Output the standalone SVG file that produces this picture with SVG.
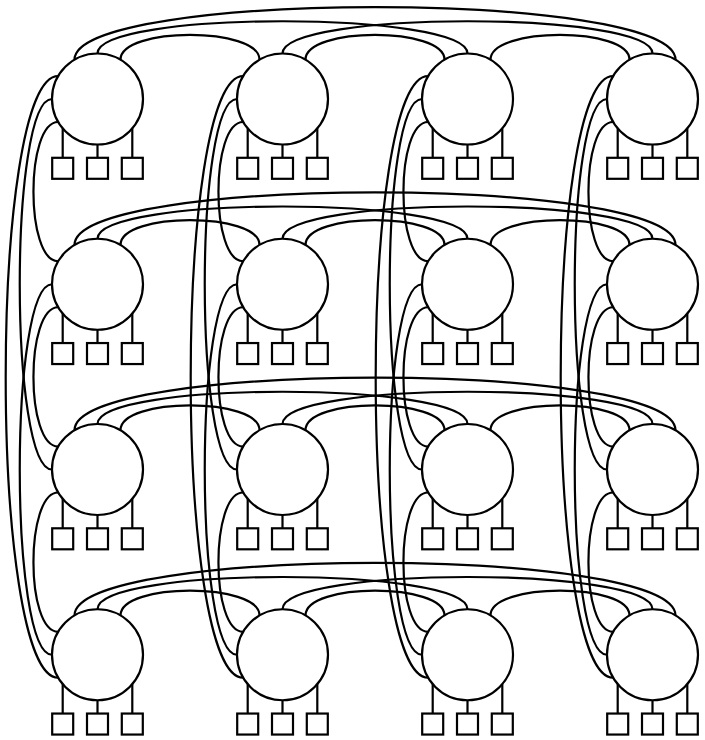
<svg xmlns="http://www.w3.org/2000/svg" width="705" height="740" viewBox="0 0 705 740">
<style>
.e{fill:none;stroke:#000;stroke-width:2.2}
.n circle{fill:#fff;stroke:#000;stroke-width:2.2}
.n rect{fill:#fff;stroke:#000;stroke-width:2.2}
.n path{fill:none;stroke:#000;stroke-width:2.2}
</style>
<rect width="705" height="740" fill="#fff"/>
<g id="connectors">
<g id="rows">
<g id="row1-edges" transform="translate(0,0)">
<path class="e" d="M120.5,59.7 C120.5,26.7 259.5,26.7 259.5,59.7"/>
<path class="e" d="M305.5,59.7 C305.5,26.7 444.5,26.7 444.5,59.7"/>
<path class="e" d="M490.5,59.7 C490.5,26.7 629.5,26.7 629.5,59.7"/>
<path class="e" d="M97.5,53.5 C97.5,10.5 467.5,10.5 467.5,53.5"/>
<path class="e" d="M282.5,53.5 C282.5,10.5 652.5,10.5 652.5,53.5"/>
<path class="e" d="M74.5,59.7 C74.5,-10.3 675.5,-10.3 675.5,59.7"/>
</g>
<g id="row2-edges" transform="translate(0,185.25)">
<path class="e" d="M120.5,59.7 C120.5,26.7 259.5,26.7 259.5,59.7"/>
<path class="e" d="M305.5,59.7 C305.5,26.7 444.5,26.7 444.5,59.7"/>
<path class="e" d="M490.5,59.7 C490.5,26.7 629.5,26.7 629.5,59.7"/>
<path class="e" d="M97.5,53.5 C97.5,10.5 467.5,10.5 467.5,53.5"/>
<path class="e" d="M282.5,53.5 C282.5,10.5 652.5,10.5 652.5,53.5"/>
<path class="e" d="M74.5,59.7 C74.5,-10.3 675.5,-10.3 675.5,59.7"/>
</g>
<g id="row3-edges" transform="translate(0,370.5)">
<path class="e" d="M120.5,59.7 C120.5,26.7 259.5,26.7 259.5,59.7"/>
<path class="e" d="M305.5,59.7 C305.5,26.7 444.5,26.7 444.5,59.7"/>
<path class="e" d="M490.5,59.7 C490.5,26.7 629.5,26.7 629.5,59.7"/>
<path class="e" d="M97.5,53.5 C97.5,10.5 467.5,10.5 467.5,53.5"/>
<path class="e" d="M282.5,53.5 C282.5,10.5 652.5,10.5 652.5,53.5"/>
<path class="e" d="M74.5,59.7 C74.5,-10.3 675.5,-10.3 675.5,59.7"/>
</g>
<g id="row4-edges" transform="translate(0,555.75)">
<path class="e" d="M120.5,59.7 C120.5,26.7 259.5,26.7 259.5,59.7"/>
<path class="e" d="M305.5,59.7 C305.5,26.7 444.5,26.7 444.5,59.7"/>
<path class="e" d="M490.5,59.7 C490.5,26.7 629.5,26.7 629.5,59.7"/>
<path class="e" d="M97.5,53.5 C97.5,10.5 467.5,10.5 467.5,53.5"/>
<path class="e" d="M282.5,53.5 C282.5,10.5 652.5,10.5 652.5,53.5"/>
<path class="e" d="M74.5,59.7 C74.5,-10.3 675.5,-10.3 675.5,59.7"/>
</g>
</g>
<g id="cols">
<g id="col1-edges" transform="translate(0,0)">
<path class="e" d="M58.2,122 C25.2,122 25.2,261.25 58.2,261.25"/>
<path class="e" d="M58.2,307.25 C25.2,307.25 25.2,446.5 58.2,446.5"/>
<path class="e" d="M58.2,492.5 C25.2,492.5 25.2,631.75 58.2,631.75"/>
<path class="e" d="M52,99 C9,99 9,469.5 52,469.5"/>
<path class="e" d="M52,284.25 C9,284.25 9,654.75 52,654.75"/>
<path class="e" d="M58.2,76 C-11.8,76 -11.8,677.75 58.2,677.75"/>
</g>
<g id="col2-edges" transform="translate(185,0)">
<path class="e" d="M58.2,122 C25.2,122 25.2,261.25 58.2,261.25"/>
<path class="e" d="M58.2,307.25 C25.2,307.25 25.2,446.5 58.2,446.5"/>
<path class="e" d="M58.2,492.5 C25.2,492.5 25.2,631.75 58.2,631.75"/>
<path class="e" d="M52,99 C9,99 9,469.5 52,469.5"/>
<path class="e" d="M52,284.25 C9,284.25 9,654.75 52,654.75"/>
<path class="e" d="M58.2,76 C-11.8,76 -11.8,677.75 58.2,677.75"/>
</g>
<g id="col3-edges" transform="translate(370,0)">
<path class="e" d="M58.2,122 C25.2,122 25.2,261.25 58.2,261.25"/>
<path class="e" d="M58.2,307.25 C25.2,307.25 25.2,446.5 58.2,446.5"/>
<path class="e" d="M58.2,492.5 C25.2,492.5 25.2,631.75 58.2,631.75"/>
<path class="e" d="M52,99 C9,99 9,469.5 52,469.5"/>
<path class="e" d="M52,284.25 C9,284.25 9,654.75 52,654.75"/>
<path class="e" d="M58.2,76 C-11.8,76 -11.8,677.75 58.2,677.75"/>
</g>
<g id="col4-edges" transform="translate(555,0)">
<path class="e" d="M58.2,122 C25.2,122 25.2,261.25 58.2,261.25"/>
<path class="e" d="M58.2,307.25 C25.2,307.25 25.2,446.5 58.2,446.5"/>
<path class="e" d="M58.2,492.5 C25.2,492.5 25.2,631.75 58.2,631.75"/>
<path class="e" d="M52,99 C9,99 9,469.5 52,469.5"/>
<path class="e" d="M52,284.25 C9,284.25 9,654.75 52,654.75"/>
<path class="e" d="M58.2,76 C-11.8,76 -11.8,677.75 58.2,677.75"/>
</g>
</g>
</g>
<g id="nodes">
<g id="n11" class="n" transform="translate(97.5,99)"><path d="M-34.8,29.3V58.8M0,45.5V58.8M34.8,29.3V58.8"/><circle r="45.5"/><rect x="-45.3" y="58.8" width="21" height="21"/><rect x="-10.5" y="58.8" width="21" height="21"/><rect x="24.3" y="58.8" width="21" height="21"/></g>
<g id="n12" class="n" transform="translate(282.5,99)"><path d="M-34.8,29.3V58.8M0,45.5V58.8M34.8,29.3V58.8"/><circle r="45.5"/><rect x="-45.3" y="58.8" width="21" height="21"/><rect x="-10.5" y="58.8" width="21" height="21"/><rect x="24.3" y="58.8" width="21" height="21"/></g>
<g id="n13" class="n" transform="translate(467.5,99)"><path d="M-34.8,29.3V58.8M0,45.5V58.8M34.8,29.3V58.8"/><circle r="45.5"/><rect x="-45.3" y="58.8" width="21" height="21"/><rect x="-10.5" y="58.8" width="21" height="21"/><rect x="24.3" y="58.8" width="21" height="21"/></g>
<g id="n14" class="n" transform="translate(652.5,99)"><path d="M-34.8,29.3V58.8M0,45.5V58.8M34.8,29.3V58.8"/><circle r="45.5"/><rect x="-45.3" y="58.8" width="21" height="21"/><rect x="-10.5" y="58.8" width="21" height="21"/><rect x="24.3" y="58.8" width="21" height="21"/></g>
<g id="n21" class="n" transform="translate(97.5,284.25)"><path d="M-34.8,29.3V58.8M0,45.5V58.8M34.8,29.3V58.8"/><circle r="45.5"/><rect x="-45.3" y="58.8" width="21" height="21"/><rect x="-10.5" y="58.8" width="21" height="21"/><rect x="24.3" y="58.8" width="21" height="21"/></g>
<g id="n22" class="n" transform="translate(282.5,284.25)"><path d="M-34.8,29.3V58.8M0,45.5V58.8M34.8,29.3V58.8"/><circle r="45.5"/><rect x="-45.3" y="58.8" width="21" height="21"/><rect x="-10.5" y="58.8" width="21" height="21"/><rect x="24.3" y="58.8" width="21" height="21"/></g>
<g id="n23" class="n" transform="translate(467.5,284.25)"><path d="M-34.8,29.3V58.8M0,45.5V58.8M34.8,29.3V58.8"/><circle r="45.5"/><rect x="-45.3" y="58.8" width="21" height="21"/><rect x="-10.5" y="58.8" width="21" height="21"/><rect x="24.3" y="58.8" width="21" height="21"/></g>
<g id="n24" class="n" transform="translate(652.5,284.25)"><path d="M-34.8,29.3V58.8M0,45.5V58.8M34.8,29.3V58.8"/><circle r="45.5"/><rect x="-45.3" y="58.8" width="21" height="21"/><rect x="-10.5" y="58.8" width="21" height="21"/><rect x="24.3" y="58.8" width="21" height="21"/></g>
<g id="n31" class="n" transform="translate(97.5,469.5)"><path d="M-34.8,29.3V58.8M0,45.5V58.8M34.8,29.3V58.8"/><circle r="45.5"/><rect x="-45.3" y="58.8" width="21" height="21"/><rect x="-10.5" y="58.8" width="21" height="21"/><rect x="24.3" y="58.8" width="21" height="21"/></g>
<g id="n32" class="n" transform="translate(282.5,469.5)"><path d="M-34.8,29.3V58.8M0,45.5V58.8M34.8,29.3V58.8"/><circle r="45.5"/><rect x="-45.3" y="58.8" width="21" height="21"/><rect x="-10.5" y="58.8" width="21" height="21"/><rect x="24.3" y="58.8" width="21" height="21"/></g>
<g id="n33" class="n" transform="translate(467.5,469.5)"><path d="M-34.8,29.3V58.8M0,45.5V58.8M34.8,29.3V58.8"/><circle r="45.5"/><rect x="-45.3" y="58.8" width="21" height="21"/><rect x="-10.5" y="58.8" width="21" height="21"/><rect x="24.3" y="58.8" width="21" height="21"/></g>
<g id="n34" class="n" transform="translate(652.5,469.5)"><path d="M-34.8,29.3V58.8M0,45.5V58.8M34.8,29.3V58.8"/><circle r="45.5"/><rect x="-45.3" y="58.8" width="21" height="21"/><rect x="-10.5" y="58.8" width="21" height="21"/><rect x="24.3" y="58.8" width="21" height="21"/></g>
<g id="n41" class="n" transform="translate(97.5,654.75)"><path d="M-34.8,29.3V58.8M0,45.5V58.8M34.8,29.3V58.8"/><circle r="45.5"/><rect x="-45.3" y="58.8" width="21" height="21"/><rect x="-10.5" y="58.8" width="21" height="21"/><rect x="24.3" y="58.8" width="21" height="21"/></g>
<g id="n42" class="n" transform="translate(282.5,654.75)"><path d="M-34.8,29.3V58.8M0,45.5V58.8M34.8,29.3V58.8"/><circle r="45.5"/><rect x="-45.3" y="58.8" width="21" height="21"/><rect x="-10.5" y="58.8" width="21" height="21"/><rect x="24.3" y="58.8" width="21" height="21"/></g>
<g id="n43" class="n" transform="translate(467.5,654.75)"><path d="M-34.8,29.3V58.8M0,45.5V58.8M34.8,29.3V58.8"/><circle r="45.5"/><rect x="-45.3" y="58.8" width="21" height="21"/><rect x="-10.5" y="58.8" width="21" height="21"/><rect x="24.3" y="58.8" width="21" height="21"/></g>
<g id="n44" class="n" transform="translate(652.5,654.75)"><path d="M-34.8,29.3V58.8M0,45.5V58.8M34.8,29.3V58.8"/><circle r="45.5"/><rect x="-45.3" y="58.8" width="21" height="21"/><rect x="-10.5" y="58.8" width="21" height="21"/><rect x="24.3" y="58.8" width="21" height="21"/></g>
</g>
</svg>
